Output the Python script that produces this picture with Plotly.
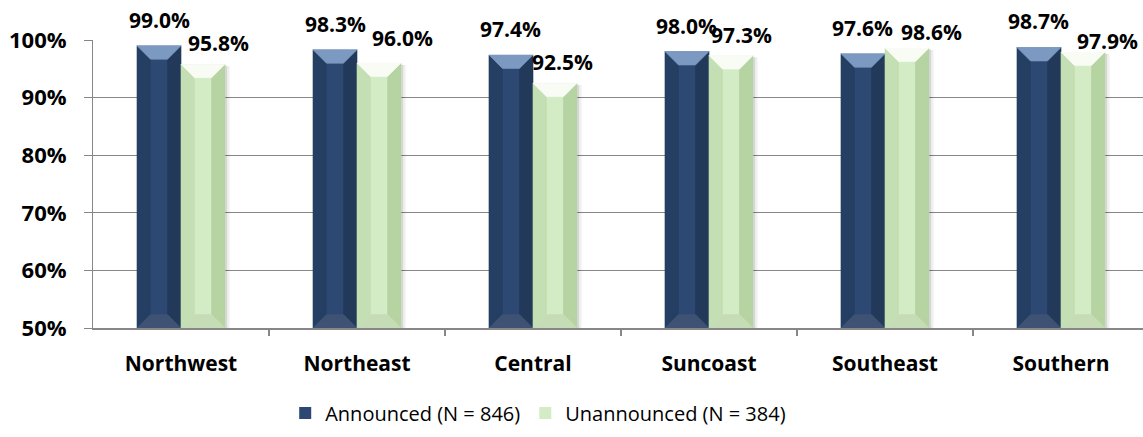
import plotly.graph_objects as go

# ---- data -------------------------------------------------------------
regions = ["Northwest", "Northeast", "Central", "Suncoast", "Southeast", "Southern"]
announced = [99.0, 98.3, 97.4, 98.0, 97.6, 98.7]
unannounced = [95.8, 96.0, 92.5, 97.3, 98.6, 97.9]
series_names = ["Announced (N = 846)", "Unannounced (N = 384)"]
y_ticks = [50, 60, 70, 80, 90, 100]

# ---- layout constants -------------------------------------------------
W, H = 1143, 437
M_L, M_R, M_T, M_B = 93, 0, 40, 109
X_RANGE = [-0.5, 5.466]
Y_RANGE = [50, 100]
PX_X = (W - M_L - M_R) / (X_RANGE[1] - X_RANGE[0])
PX_Y = (H - M_T - M_B) / (Y_RANGE[1] - Y_RANGE[0])
BAR_W = 0.25
INSET = 13.5 / PX_X      # bevel width in x units
DEPTH = 13.5 / PX_Y      # bevel height in y units
FLOOR = Y_RANGE[0]

FONT = "Open Sans"
GRID = "#878787"

styles = [
    dict(offset=-BAR_W / 2, left="#253F63", center="#2C4873", right="#22395A",
         top="#7C99C1", bottom="#3E5273", shadow=False),
    dict(offset=BAR_W / 2, left="#C4DFB3", center="#D3ECC6", right="#B6D3A2",
         top="#F8FCF5", bottom="#C6DCB6", shadow=True),
]

# per-label pixel shifts (dx, dy) for the value labels
ann_label_shift = [(0, 26)] * 6
unann_label_shift = [(15, 21), (23, 25), (8, 21), (11, 21), (25, 16), (25, 11)]

fig = go.Figure()


def poly_trace(polys, color, opacity=1.0):
    xs, ys = [], []
    for pts in polys:
        for px, py in pts + [pts[0]]:
            xs.append(px)
            ys.append(py)
        xs.append(None)
        ys.append(None)
    return go.Scatter(
        x=xs, y=ys, mode="lines", fill="toself", fillcolor=color,
        line=dict(color=color, width=0.6), opacity=opacity,
        hoverinfo="skip", showlegend=False,
    )


for values, name, st in zip([announced, unannounced], series_names, styles):
    xs = [i + st["offset"] for i in range(len(values))]

    # soft shadow on the right of the bar
    if st["shadow"]:
        for k, alpha in enumerate([0.10, 0.06, 0.03]):
            sh = []
            for x, v in zip(xs, values):
                xa = x + BAR_W / 2 + k * 1.6 / PX_X
                xb = xa + 1.6 / PX_X
                sh.append([(xa, FLOOR), (xa, v - 2 / PX_Y), (xb, v - 2 / PX_Y), (xb, FLOOR)])
            fig.add_trace(poly_trace(sh, f"rgba(0,0,0,{alpha})"))

    # main bar body
    fig.add_trace(go.Bar(
        x=xs, y=values, width=BAR_W, name=name,
        marker=dict(color=st["center"], line=dict(width=0)),
        hoverinfo="skip",
    ))

    lefts, rights, tops, bottoms = [], [], [], []
    for x, v in zip(xs, values):
        x0, x1 = x - BAR_W / 2, x + BAR_W / 2
        lefts.append([(x0, FLOOR), (x0, v), (x0 + INSET, v - DEPTH), (x0 + INSET, FLOOR + DEPTH)])
        rights.append([(x1, FLOOR), (x1, v), (x1 - INSET, v - DEPTH), (x1 - INSET, FLOOR + DEPTH)])
        tops.append([(x0, v), (x1, v), (x1 - INSET, v - DEPTH), (x0 + INSET, v - DEPTH)])
        bottoms.append([(x0, FLOOR), (x1, FLOOR), (x1 - INSET, FLOOR + DEPTH), (x0 + INSET, FLOOR + DEPTH)])
    fig.add_trace(poly_trace(lefts, st["left"]))
    fig.add_trace(poly_trace(rights, st["right"]))
    fig.add_trace(poly_trace(bottoms, st["bottom"]))
    fig.add_trace(poly_trace(tops, st["top"]))

# ---- value labels -----------------------------------------------------
for values, st, shifts in zip([announced, unannounced], styles, [ann_label_shift, unann_label_shift]):
    for i, (v, (dx, dy)) in enumerate(zip(values, shifts)):
        fig.add_annotation(
            x=i + st["offset"], y=v, text=f"{v:.1f}%", showarrow=False,
            xanchor="center", yanchor="middle", xshift=dx, yshift=dy,
            font=dict(family=FONT, size=21, color="#000000", weight="bold"),
        )

fig.update_layout(
    width=W, height=H,
    margin=dict(l=M_L, r=M_R, t=M_T, b=M_B, pad=0),
    paper_bgcolor="white", plot_bgcolor="white",
    barmode="overlay",
    showlegend=True,
    legend=dict(
        orientation="h", x=0.424, xanchor="center", y=-0.295, yanchor="middle",
        font=dict(family=FONT, size=20, color="#000000"),
        bgcolor="rgba(0,0,0,0)",
    ),
    xaxis=dict(
        range=X_RANGE, tickmode="array", tickvals=list(range(len(regions))),
        ticktext=regions, ticks="", showgrid=False, zeroline=False,
        showline=True, linecolor=GRID, linewidth=1.5,
        tickfont=dict(family=FONT, size=21, color="#000000", weight="bold"),
        ticklabelstandoff=16,
        minor=dict(tickmode="array", tickvals=[i + 0.5 for i in range(len(regions) - 1)],
                   ticks="outside", ticklen=6, tickcolor=GRID, tickwidth=1.5, showgrid=False),
    ),
    yaxis=dict(
        range=Y_RANGE, tickmode="array", tickvals=y_ticks,
        ticktext=[f"{t}%" for t in y_ticks],
        ticks="outside", ticklen=8, tickcolor=GRID, tickwidth=1,
        showgrid=True, gridcolor=GRID, gridwidth=1, zeroline=False,
        showline=True, linecolor=GRID, linewidth=1,
        tickfont=dict(family=FONT, size=22, color="#000000", weight="bold"),
        ticklabelstandoff=13,
    ),
)

fig.write_html("out.html")
